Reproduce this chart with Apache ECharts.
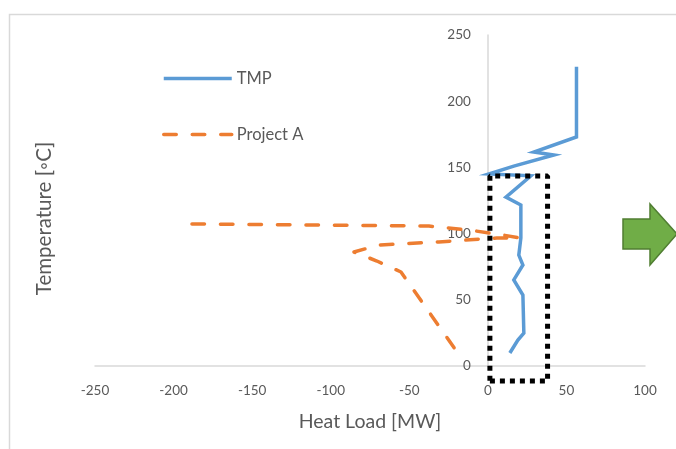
<!DOCTYPE html>
<html>
<head>
<meta charset="utf-8">
<script src="https://cdn.jsdelivr.net/npm/echarts@6/dist/echarts.min.js"></script>
<style>
  html, body { margin: 0; padding: 0; background: #fff; }
  #chart { width: 676px; height: 449px; }
</style>
</head>
<body>
<div id="chart"></div>
<script>
// Heat load [MW] vs temperature [°C] profiles
const tmpLoad = [56.4, 56.4, 29.3, 42.0, 16.5, 0.6, 27.4, 11.5, 21.0, 21.0, 19.7, 22.3, 16.5, 22.3, 22.9, 19.1, 14.0];
const tmpTemp = [226, 173, 161.6, 159.4, 151, 145, 143.7, 127.6, 121.6, 96.7, 83.8, 76.3, 65, 53.6, 24.9, 19.6, 9.8];

const projLoad = [-188.3, -37.5, -12.1, 5.7, 20.4, 5.7, -31.2, -69.3, -85.2, -70.6, -55.3, -17.8];
const projTemp = [107.3, 105.7, 102.7, 99.7, 96.7, 96.7, 93.7, 91.4, 86.1, 79.3, 71.0, 7.6];

// Highlighted region (dotted box)
const boxLoad = [1.3, 38, 38, 1.3, 1.3];
const boxTemp = [-11.3, -11.3, 143.5, 143.5, -11.3];

const xRange = { min: -250, max: 100, step: 50 };
const yRange = { min: 0, max: 250, step: 50 };

const seriesNames = ['TMP', 'Project A'];
const xTitle = 'Heat Load [MW]';
const yTitle = 'Temperature [\u25E6C]';

const pairs = (xs, ys) => xs.map((x, i) => [x, ys[i]]);

const textColor = '#595959';
const axisColor = '#d9d9d9';
const fontFamily = 'Lato, "Open Sans", sans-serif';
const clear = 'rgba(0,0,0,0)';

const gridLeft = 95, gridRight = 31;
const chartWidth = 676;
// shift the vertical axis so it sits at heat load = 0
const plotWidth = chartWidth - gridLeft - gridRight;
const yAxisShift = -plotWidth * (0 - xRange.min) / (xRange.max - xRange.min);

const chart = echarts.init(document.getElementById('chart'), null, { renderer: 'canvas' });

chart.setOption({
  animation: false,
  backgroundColor: '#fff',
  textStyle: { fontFamily: fontFamily, color: textColor },
  grid: { left: gridLeft, right: gridRight, top: 35, bottom: 83, containLabel: false, outerBoundsMode: 'none' },
  legend: {
    orient: 'vertical',
    left: 162,
    top: 70,
    padding: 0,
    itemWidth: 68,
    itemHeight: 16,
    itemGap: 39,
    data: seriesNames,
    lineStyle: { width: 3.5 },
    textStyle: { color: textColor, fontSize: 16.5, fontFamily: fontFamily, padding: [0, 0, 0, 0] }
  },
  xAxis: {
    type: 'value',
    min: xRange.min,
    max: xRange.max,
    interval: xRange.step,
    name: xTitle,
    nameLocation: 'middle',
    nameGap: 46,
    nameTextStyle: { fontSize: 19.5, color: textColor, fontFamily: fontFamily },
    axisLine: { onZero: true, lineStyle: { color: axisColor, width: 1.5 } },
    axisTick: { show: false },
    splitLine: { show: false },
    axisLabel: { color: textColor, fontSize: 13.5, margin: 18 }
  },
  yAxis: {
    type: 'value',
    min: yRange.min,
    max: yRange.max,
    interval: yRange.step,
    offset: yAxisShift,
    name: yTitle,
    nameLocation: 'middle',
    nameRotate: 90,
    nameGap: 433,
    nameTextStyle: { fontSize: 20.5, color: textColor, fontFamily: fontFamily, padding: [0, 36, 0, 0] },
    axisLine: { show: true, onZero: false, lineStyle: { color: axisColor, width: 1.5 } },
    axisTick: { show: false },
    splitLine: { show: false },
    axisLabel: { color: textColor, fontSize: 13.5, margin: 17 }
  },
  series: [
    {
      name: seriesNames[0],
      type: 'line',
      data: pairs(tmpLoad, tmpTemp),
      symbol: 'none',
      z: 3,
      lineStyle: { color: '#5B9BD5', width: 3.5, join: 'miter', cap: 'butt' },
      itemStyle: { color: clear, borderColor: clear }
    },
    {
      name: seriesNames[1],
      type: 'line',
      data: pairs(projLoad, projTemp),
      symbol: 'none',
      z: 3,
      lineStyle: { color: '#ED7D31', width: 3.5, type: [12.5, 16], cap: 'round', join: 'round' },
      itemStyle: { color: clear, borderColor: clear }
    },
    {
      name: 'box',
      type: 'line',
      data: pairs(boxLoad, boxTemp),
      symbol: 'none',
      clip: false,
      silent: true,
      z: 4,
      lineStyle: { color: '#000', width: 5, type: [5, 5], cap: 'butt' },
      itemStyle: { color: '#000' }
    }
  ],
  graphic: [
    {
      type: 'rect',
      left: 7, top: 12,
      shape: { x: 0, y: 0, width: 720, height: 480 },
      style: { fill: 'none', stroke: '#d9d9d9', lineWidth: 1.5 },
      z: -1,
      silent: true
    },
    {
      type: 'polygon',
      shape: { points: [[623, 219], [650, 219], [650, 204], [677, 234], [650, 265], [650, 249], [623, 249]] },
      style: { fill: '#70AD47', stroke: '#507E32', lineWidth: 1.5 },
      silent: true
    }
  ]
});
</script>
</body>
</html>
